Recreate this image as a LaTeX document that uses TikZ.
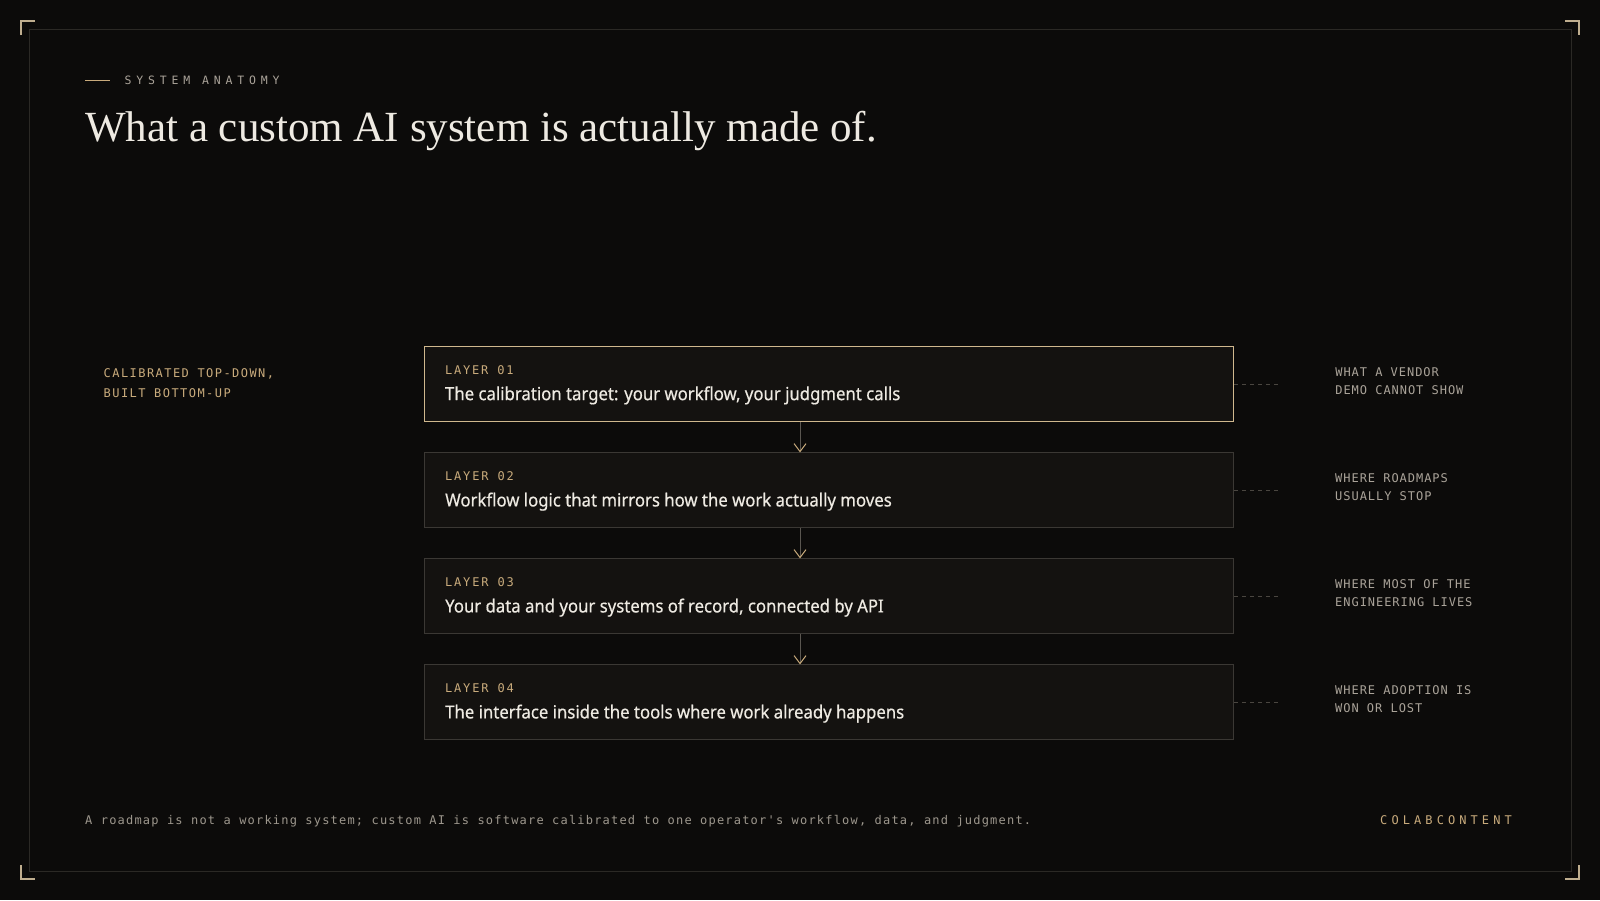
\documentclass[tikz,border=0pt]{standalone}
\usepackage{fontspec}
\usepackage{tikz}
\usetikzlibrary{positioning,arrows.meta}
\setmainfont{Liberation Serif}
\newfontfamily\titlefont{Liberation Serif}
\newfontfamily\sansfont[FakeStretch=0.93,FakeBold=0.5]{Noto Sans}
\newfontfamily\kickerfont[LetterSpace=42]{DejaVu Sans Mono}
\newfontfamily\tagfont[LetterSpace=15]{DejaVu Sans Mono}
\newfontfamily\notefont[LetterSpace=8]{DejaVu Sans Mono}
\newfontfamily\sidefont[LetterSpace=12]{DejaVu Sans Mono}
\newfontfamily\footfont[LetterSpace=10]{DejaVu Sans Mono}
\newfontfamily\brandfont[LetterSpace=34]{DejaVu Sans Mono}
\definecolor{bg}{HTML}{0C0B0A}
\definecolor{frameline}{HTML}{2B2925}
\definecolor{corner}{HTML}{BFAE8F}
\definecolor{gold}{HTML}{C9AB7C}
\definecolor{boxfill}{HTML}{141210}
\definecolor{boxline}{HTML}{3B3834}
\definecolor{topline}{HTML}{D0B88E}
\definecolor{bright}{HTML}{EEEAE2}
\definecolor{muted}{HTML}{AAA399}
\definecolor{footgray}{HTML}{9D978D}
\definecolor{shaft}{HTML}{5A5650}
\definecolor{dashgray}{HTML}{4A4640}
\tikzstyle{layer}=[draw=boxline, fill=boxfill, line width=1pt, minimum width=809pt, minimum height=74.5pt, inner sep=0pt]
\tikzstyle{toplayer}=[layer, draw=topline, line width=1.3pt]
\tikzstyle{tag}=[inner sep=0pt, anchor=base west, text=gold, font=\tagfont\fontsize{12}{14}\selectfont]
\tikzstyle{claim}=[inner sep=0pt, anchor=base west, text=bright, font=\sansfont\fontsize{18}{22}\selectfont]
\tikzstyle{note}=[inner sep=0pt, anchor=north west, align=left, text=muted, font=\notefont\fontsize{12}{18}\selectfont]

\begin{document}
\begin{tikzpicture}[x=1pt,y=-1pt,node distance=30.5pt,
    flow/.style={draw=shaft, line width=1pt, -{Straight Barb[length=8pt,width=12pt,color=gold]}},
    link/.style={draw=dashgray, line width=1pt, dash pattern=on 4pt off 4pt},
    brackets/.style={draw=corner, line width=1.2pt}]

    % page and frame
    \fill[bg] (0,0) rectangle (1600,900);
    \draw[frameline, line width=1pt] (29,29) rectangle (1571,871);
    \draw[brackets] (21,35) -- (21,21) -- (35,21);
    \draw[brackets] (1565,21) -- (1579,21) -- (1579,35);
    \draw[brackets] (21,865) -- (21,879) -- (35,879);
    \draw[brackets] (1565,879) -- (1579,879) -- (1579,865);

    % heading
    \coordinate (rule_a) at (85,80.5);
    \node[inner sep=0pt, anchor=west, text=muted, font=\kickerfont\fontsize{11.5}{14}\selectfont] (kicker) at (124.5,80.5) {SYSTEM ANATOMY};
    \draw[gold, line width=1pt] (rule_a) -- ([xshift=-15pt]kicker.west);
    \node[inner sep=0pt, anchor=base west, text=bright, font=\titlefont\fontsize{43}{50}\selectfont] (title) at (85,141) {What a custom AI system is actually made of.};

    % layers
    \node[toplayer] (layer_1) at (829,384) {};
    \node[layer] (layer_2) [below=of layer_1] {};
    \node[layer] (layer_3) [below=of layer_2] {};
    \node[layer] (layer_4) [below=of layer_3] {};

    \node[tag] (tag_1) at ([shift={(21,28)}]layer_1.north west) {LAYER 01};
    \node[claim] (claim_1) at ([shift={(21,54)}]layer_1.north west) {The calibration target: your workflow, your judgment calls};
    \node[tag] (tag_2) at ([shift={(21,28)}]layer_2.north west) {LAYER 02};
    \node[claim] (claim_2) at ([shift={(21,54)}]layer_2.north west) {Workflow logic that mirrors how the work actually moves};
    \node[tag] (tag_3) at ([shift={(21,28)}]layer_3.north west) {LAYER 03};
    \node[claim] (claim_3) at ([shift={(21,54)}]layer_3.north west) {Your data and your systems of record, connected by API};
    \node[tag] (tag_4) at ([shift={(21,28)}]layer_4.north west) {LAYER 04};
    \node[claim] (claim_4) at ([shift={(21,54)}]layer_4.north west) {The interface inside the tools where work already happens};

    % flow between layers
    \coordinate (axis) at (800,0);
    \draw[flow] (layer_1.south -| axis) -- (layer_2.north -| axis);
    \draw[flow] (layer_2.south -| axis) -- (layer_3.north -| axis);
    \draw[flow] (layer_3.south -| axis) -- (layer_4.north -| axis);

    % side notes
    \node[note] (note_1) at ([shift={(101,20.8)}]layer_1.north east) {WHAT A VENDOR\\DEMO CANNOT SHOW};
    \node[note] (note_2) at ([shift={(101,20.8)}]layer_2.north east) {WHERE ROADMAPS\\USUALLY STOP};
    \node[note] (note_3) at ([shift={(101,20.8)}]layer_3.north east) {WHERE MOST OF THE\\ENGINEERING LIVES};
    \node[note] (note_4) at ([shift={(101,20.8)}]layer_4.north east) {WHERE ADOPTION IS\\WON OR LOST};
    \draw[link] (layer_1.east) -- ++(44,0);
    \draw[link] (layer_2.east) -- ++(44,0);
    \draw[link] (layer_3.east) -- ++(44,0);
    \draw[link] (layer_4.east) -- ++(44,0);

    \node[inner sep=0pt, anchor=north west, align=left, text=gold, font=\sidefont\fontsize{12}{20}\selectfont] (order) at (103.5,368.7) {CALIBRATED TOP-DOWN,\\BUILT BOTTOM-UP};

    % footer
    \node[inner sep=0pt, anchor=base west, text=footgray, font=\footfont\fontsize{12}{14}\selectfont] (footer) at (85,824.3) {A roadmap is not a working system; custom AI is software calibrated to one operator's workflow, data, and judgment.};
    \node[inner sep=0pt, anchor=base east, text=gold, font=\brandfont\fontsize{12}{14}\selectfont] (brand) at (1512,824.3) {COLABCONTENT};
\end{tikzpicture}
\end{document}
